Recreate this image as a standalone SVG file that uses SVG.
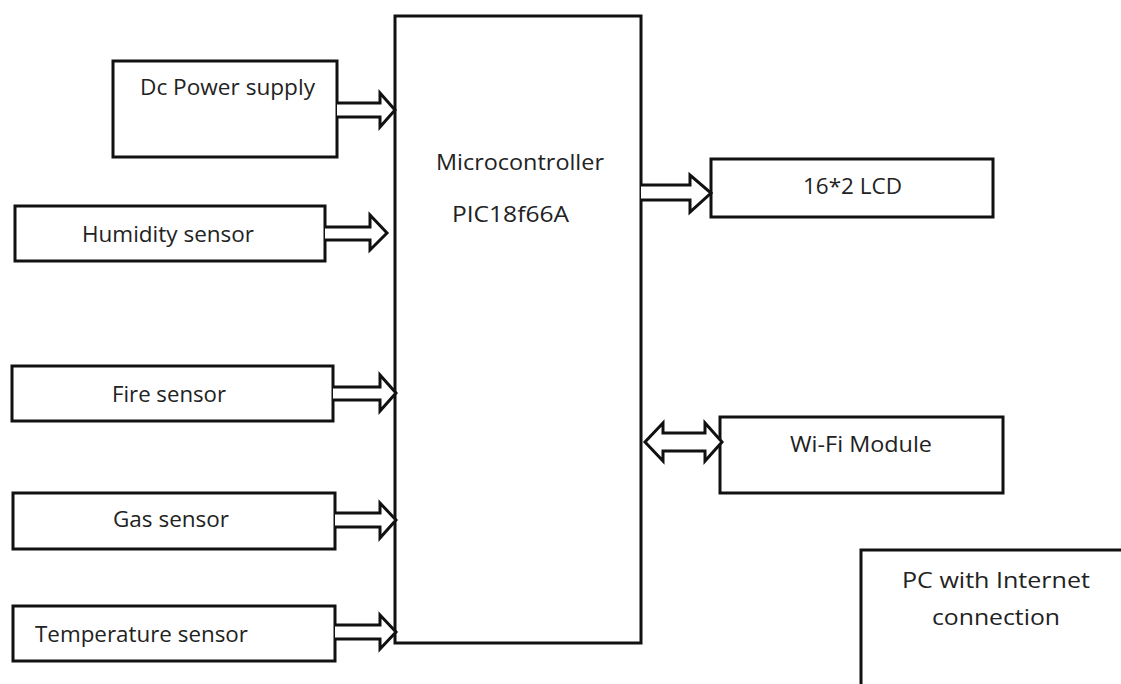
<svg xmlns="http://www.w3.org/2000/svg" width="1121" height="684" viewBox="0 0 1121 684">
<style>
.box{fill:#fff;stroke:#111;stroke-width:3}
.arr{fill:#fff;stroke:#111;stroke-width:3;stroke-linejoin:miter}
text{font-family:"Open Sans","Liberation Sans",sans-serif;font-size:21px;fill:#222}
</style>
<rect width="1121" height="684" fill="#fff"/>
<g id="mcu"><rect class="box" x="395" y="16" width="246" height="627"/>
<text x="436" y="170" textLength="168" lengthAdjust="spacingAndGlyphs">Microcontroller</text>
<text x="452" y="222" textLength="117" lengthAdjust="spacingAndGlyphs">PIC18f66A</text></g>
<g id="dc"><rect class="box" x="113" y="61" width="224" height="96"/>
<text x="140" y="95" textLength="175" lengthAdjust="spacingAndGlyphs">Dc Power supply</text></g>
<g id="humidity"><rect class="box" x="15" y="206" width="310" height="55"/>
<text x="82" y="242" textLength="172" lengthAdjust="spacingAndGlyphs">Humidity sensor</text></g>
<g id="fire"><rect class="box" x="12" y="366" width="321" height="55"/>
<text x="112" y="402" textLength="114" lengthAdjust="spacingAndGlyphs">Fire sensor</text></g>
<g id="gas"><rect class="box" x="13" y="493" width="322" height="56"/>
<text x="113" y="527" textLength="116" lengthAdjust="spacingAndGlyphs">Gas sensor</text></g>
<g id="temp"><rect class="box" x="13" y="606" width="322" height="55"/>
<text x="35" y="642" textLength="213" lengthAdjust="spacingAndGlyphs">Temperature sensor</text></g>
<g id="lcd"><rect class="box" x="711" y="159" width="282" height="58"/>
<text x="803" y="194" textLength="99" lengthAdjust="spacingAndGlyphs">16*2 LCD</text></g>
<g id="wifi"><rect class="box" x="720" y="417" width="283" height="76"/>
<text x="790" y="452" textLength="142" lengthAdjust="spacingAndGlyphs">Wi-Fi Module</text></g>
<g id="pc"><rect class="box" x="861" y="550" width="280" height="150"/>
<text x="902" y="588" textLength="188" lengthAdjust="spacingAndGlyphs">PC with Internet</text>
<text x="932" y="625" textLength="128" lengthAdjust="spacingAndGlyphs">connection</text></g>
<g id="connectors">
<path class="arr" d="M337,103 H380 V93 L395,110 L380,127 V117 H337"/>
<path class="arr" d="M325,227 H370 V215 L387,233 L370,250 V240 H325"/>
<path class="arr" d="M333,387 H380 V375 L396,393 L380,411 V400 H333"/>
<path class="arr" d="M335,513 H380 V503 L396,520 L380,538 V527 H335"/>
<path class="arr" d="M335,625 H380 V615 L396,632 L380,649 V639 H335"/>
<path class="arr" d="M641,185 H690 V175 L711,193 L690,212 V200 H641"/>
<path class="arr" d="M663,433 H705 V423 L722,442 L705,461 V451 H663 V461 L645,442 L663,423 Z"/>
</g>
</svg>
